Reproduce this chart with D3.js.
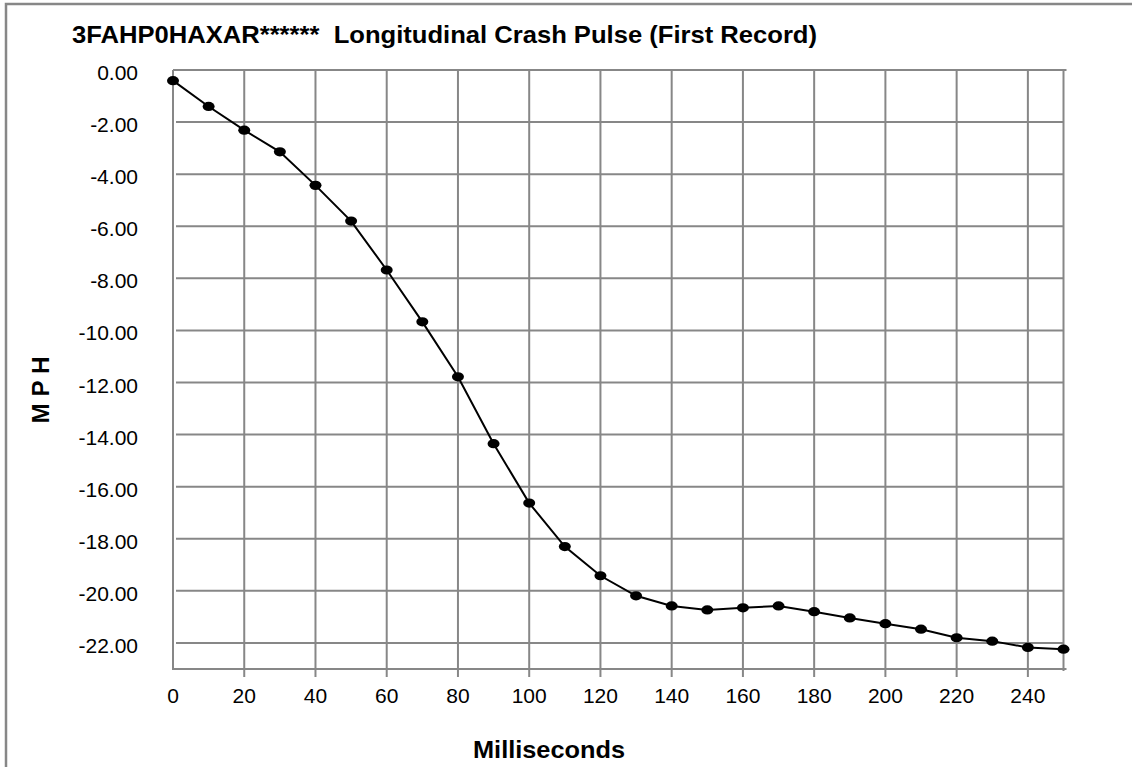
<!DOCTYPE html>
<html>
<head>
<meta charset="utf-8">
<script src="https://cdn.jsdelivr.net/npm/d3@7"></script>
<style>
  body { margin: 0; background: #fff; }
  text { font-family: Arial, "Liberation Sans", sans-serif; fill: #000; }
</style>
</head>
<body>
<div id="chart"></div>
<script>
// data
var titleText = "3FAHP0HAXAR******  Longitudinal Crash Pulse (First Record)";
var times = [0, 10, 20, 30, 40, 50, 60, 70, 80, 90, 100, 110, 120, 130, 140, 150, 160, 170, 180, 190, 200, 210, 220, 230, 240, 250];
var mph = [-0.41, -1.40, -2.31, -3.14, -4.43, -5.80, -7.68, -9.67, -11.78, -14.35, -16.63, -18.30, -19.42,
           -20.19, -20.58, -20.73, -20.65, -20.58, -20.80, -21.04, -21.26, -21.47, -21.80, -21.93, -22.17, -22.24];
var xTicks = [0, 20, 40, 60, 80, 100, 120, 140, 160, 180, 200, 220, 240];
var yTicks = [0, -2, -4, -6, -8, -10, -12, -14, -16, -18, -20, -22];

var width = 1132, height = 767;
// plot box (note: "top" is taken by window.top, so use other names)
var plotL = 173, plotR = 1063.5, plotT = 70, plotB = 669;
var gridColor = "#878787";

var svg = d3.select("#chart").append("svg")
    .attr("width", width)
    .attr("height", height);

// outer chart border (runs off the right/bottom edge)
svg.append("path")
    .attr("d", "M6," + height + "V4H" + width)
    .attr("fill", "none")
    .attr("stroke", gridColor)
    .attr("stroke-width", 2.5);

var x = d3.scaleLinear().domain([0, 250]).range([plotL, plotR]);
var y = d3.scaleLinear().domain([-23, 0]).range([plotB, plotT]);

// horizontal grid
svg.append("g").selectAll("line")
    .data(yTicks.filter(function(d) { return d !== 0; }))
    .enter().append("line")
    .attr("x1", plotL + 3).attr("x2", plotR)
    .attr("y1", function(d) { return y(d); })
    .attr("y2", function(d) { return y(d); })
    .attr("stroke", gridColor).attr("stroke-width", 2);

// vertical grid + tick marks below the axis
svg.append("g").selectAll("line")
    .data(xTicks.filter(function(d) { return d !== 0; }).concat([250]))
    .enter().append("line")
    .attr("x1", function(d) { return x(d); })
    .attr("x2", function(d) { return x(d); })
    .attr("y1", plotT).attr("y2", function(d) { return d === 250 ? plotB + 2 : plotB + 8; })
    .attr("stroke", gridColor).attr("stroke-width", 2);

// top edge of plot and the two axes
svg.append("line")
    .attr("x1", plotL).attr("x2", plotR + 3)
    .attr("y1", plotT).attr("y2", plotT)
    .attr("stroke", gridColor).attr("stroke-width", 2);
svg.append("line")
    .attr("x1", plotL).attr("x2", plotL)
    .attr("y1", plotT).attr("y2", plotB + 1)
    .attr("stroke", gridColor).attr("stroke-width", 2);
svg.append("line")
    .attr("x1", plotL).attr("x2", plotR + 3)
    .attr("y1", plotB).attr("y2", plotB)
    .attr("stroke", gridColor).attr("stroke-width", 2);

// tick labels
svg.append("g").selectAll("text")
    .data(yTicks)
    .enter().append("text")
    .attr("x", 138)
    .attr("y", function(d) { return y(d) + 10; })
    .attr("text-anchor", "end")
    .style("font-size", "21px")
    .text(function(d) { return d3.format(".2f")(d).replace("−", "-"); });

svg.append("g").selectAll("text")
    .data(xTicks)
    .enter().append("text")
    .attr("x", function(d) { return x(d); })
    .attr("y", 703)
    .attr("text-anchor", "middle")
    .style("font-size", "21px")
    .text(function(d) { return d; });

// the series
var pts = times.map(function(t, i) { return { t: t, v: mph[i] }; });

var line = d3.line()
    .x(function(d) { return x(d.t); })
    .y(function(d) { return y(d.v); });

svg.append("path")
    .datum(pts)
    .attr("d", line)
    .attr("fill", "none")
    .attr("stroke", "#000")
    .attr("stroke-width", 2);

svg.append("g").selectAll("ellipse")
    .data(pts)
    .enter().append("ellipse")
    .attr("cx", function(d) { return x(d.t); })
    .attr("cy", function(d) { return y(d.v); })
    .attr("rx", 6)
    .attr("ry", 4.6)
    .attr("fill", "#000");

// titles
svg.append("text")
    .attr("x", 72).attr("y", 43)
    .attr("textLength", 745)
    .attr("lengthAdjust", "spacingAndGlyphs")
    .style("font-size", "24px").style("font-weight", "bold")
    .style("white-space", "pre")
    .text(titleText);

svg.append("text")
    .attr("x", 473).attr("y", 758)
    .attr("textLength", 152)
    .attr("lengthAdjust", "spacingAndGlyphs")
    .style("font-size", "24px").style("font-weight", "bold")
    .text("Milliseconds");

svg.append("text")
    .attr("transform", "translate(49,423.5) rotate(-90)")
    .attr("textLength", 67)
    .attr("lengthAdjust", "spacingAndGlyphs")
    .style("font-size", "24px").style("font-weight", "bold")
    .style("white-space", "pre")
    .text("M P H");
</script>
</body>
</html>
